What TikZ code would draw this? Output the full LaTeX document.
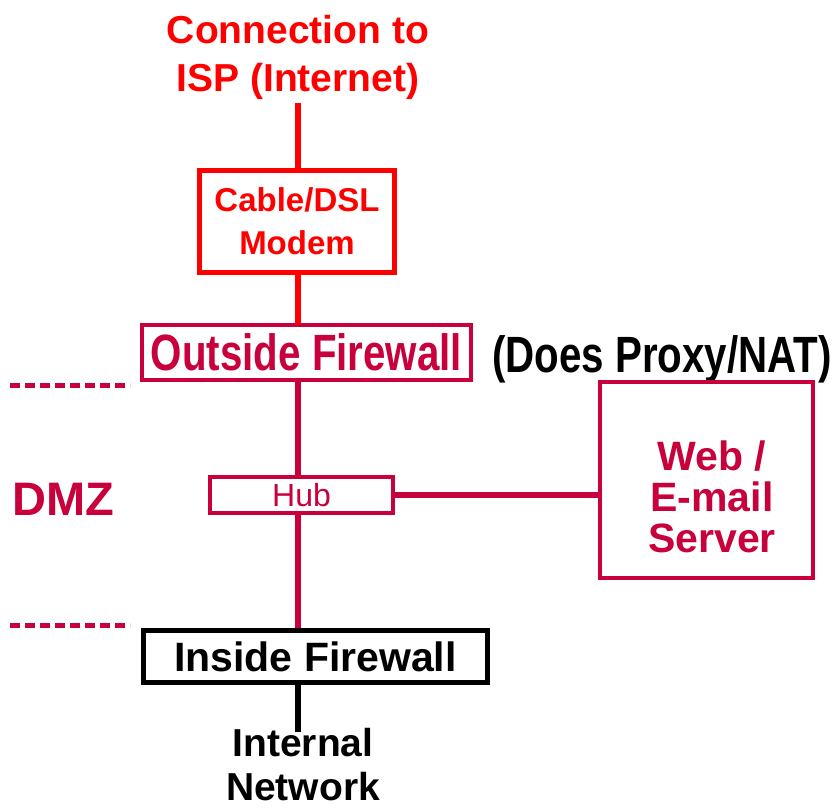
\documentclass[tikz,border=0pt]{standalone}
\usepackage{fontspec}
\setmainfont{Liberation Sans}
\newfontfamily\narrowboldfont[FakeStretch=0.79]{Liberation Sans Bold}
\definecolor{ispred}{RGB}{255,0,0}
\definecolor{dmzred}{RGB}{200,0,60}
\begin{document}
\begin{tikzpicture}[x=1pt,y=-1pt,
  box/.style={draw, rectangle, inner sep=0pt, align=center},
  link/.style={line width=5.5pt},
  zone/.style={line width=5pt, dmzred, dash pattern=on 10pt off 5pt},
  lbl/.style={inner sep=0pt, align=center}]
\useasboundingbox (0,0) rectangle (834,810);
\fill[white] (0,0) rectangle (834,810);
\coordinate (spine) at (298,0);

\node[lbl, text=ispred, font=\bfseries\fontsize{39}{48}\selectfont, anchor=base] (isp) at (298,92) {Connection to\\ISP (Internet)};

\node[box, draw=ispred, line width=5.5pt, minimum width=195pt, minimum height=102pt,
      text=ispred, font=\bfseries\fontsize{33}{43}\selectfont] (modem) at (297,221.5) {Cable/DSL\\Modem};

\node[box, draw=dmzred, line width=4.5pt, minimum width=329pt, minimum height=55pt,
      text=dmzred, font=\narrowboldfont\fontsize{51}{51}\selectfont] (ofw) at (306.5,352.5) {Outside Firewall};

\node[lbl, anchor=base west, font=\narrowboldfont\fontsize{51}{51}\selectfont] (nat) at (492,372) {(Does Proxy/NAT)};

\node[box, draw=dmzred, line width=4.5pt, minimum width=183pt, minimum height=36pt,
      text=dmzred, font=\fontsize{32}{32}\selectfont] (hub) at (301.5,495) {Hub};

\node[box, draw=dmzred, line width=4.5pt, minimum width=213pt, minimum height=196pt] (web) at (706.5,480) {};
\node[lbl, text=dmzred, font=\bfseries\fontsize{41}{41}\selectfont, anchor=base] (webtxt) at (712,552) {Web /\\E-mail\\Server};

\node[lbl, anchor=base west, text=dmzred, font=\bfseries\fontsize{47}{47}\selectfont] (dmz) at (12,515) {DMZ};

\node[box, draw=black, line width=5.5pt, minimum width=344pt, minimum height=52pt,
      font=\bfseries\fontsize{41}{41}\selectfont] (ifw) at (315.5,656.5) {Inside Firewall};

\node[lbl, anchor=base, font=\bfseries\fontsize{39}{44}\selectfont] (net) at (303,800) {Internal\\Network};

\draw[link, ispred] (spine |- isp.south) ++(0,3) -- (spine |- modem.north);
\draw[link, ispred] (spine |- modem.south) -- (spine |- ofw.north);
\draw[link, dmzred] (spine |- ofw.south) -- (spine |- hub.north);
\draw[link, dmzred] (hub.east) -- (web.west |- hub.east);
\draw[link, dmzred] (spine |- hub.south) -- (spine |- ifw.north);
\draw[link, black] (spine |- ifw.south) -- ([yshift=-4pt]spine |- net.north);

\coordinate (z1a) at (10,385); \coordinate (z1b) at (130,385);
\coordinate (z2a) at (10,625); \coordinate (z2b) at (130,625);
\draw[zone] (z1a) -- (z1b);
\draw[zone] (z2a) -- (z2b);
\end{tikzpicture}
\end{document}
